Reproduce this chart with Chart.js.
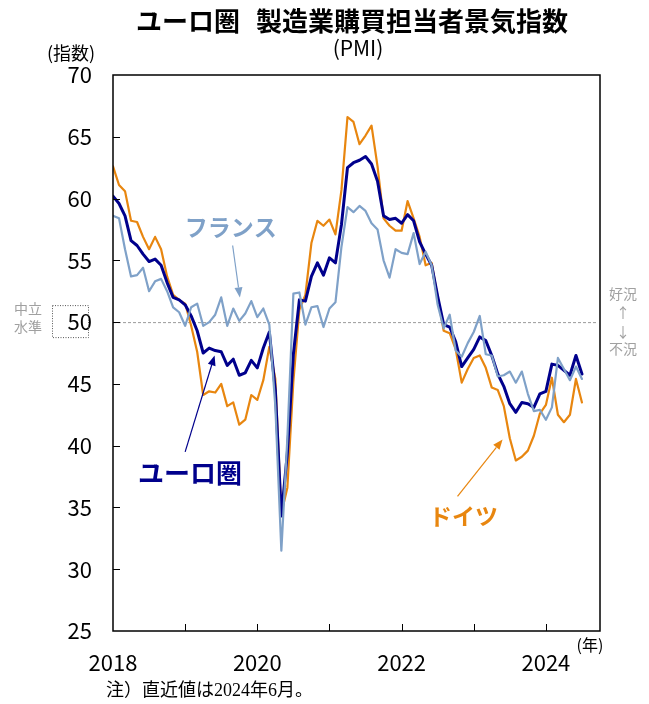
<!DOCTYPE html>
<html>
<head>
<meta charset="utf-8">
<script src="https://cdn.jsdelivr.net/npm/chart.js@4.4.1/dist/chart.umd.min.js"></script>
<style>
  html, body { margin: 0; padding: 0; background: #fff; }
  #wrap { width: 649px; height: 704px; }
</style>
</head>
<body>
<div id="wrap"><canvas id="chartPMI" width="649" height="704"></canvas></div>
<script>
// 月次データ（2017年12月〜2024年6月）
const meses = [];
for (let i = 0; i < 79; i++) {
    const m = 11 + i;
    meses.push(`${2017 + Math.floor(m / 12)}-${String(m % 12 + 1).padStart(2, '0')}`);
}

const euroArea = [
    60.2,
    59.6, 58.6, 56.6, 56.2, 55.5, 54.9, 55.1, 54.6, 53.2, 52.0, 51.8, 51.4,
    50.5, 49.3, 47.5, 47.9, 47.7, 47.6, 46.5, 47.0, 45.7, 45.9, 46.9, 46.3,
    47.9, 49.2, 44.5, 34.3, 39.4, 47.4, 51.8, 51.7, 53.7, 54.8, 53.8, 55.2,
    54.8, 57.9, 62.5, 62.9, 63.1, 63.4, 62.8, 61.4, 58.6, 58.3, 58.4, 58.0,
    58.7, 58.2, 56.5, 55.5, 54.6, 52.1, 49.8, 49.6, 48.4, 46.4, 47.1, 47.8,
    48.8, 48.5, 47.3, 45.8, 44.8, 43.4, 42.7, 43.5, 43.4, 43.1, 44.2, 44.4,
    46.6, 46.5, 46.1, 45.7, 47.3, 45.8
];
const germany = [
    62.6,
    61.1, 60.6, 58.2, 58.1, 56.9, 55.9, 56.9, 55.9, 53.7, 52.2, 51.8, 51.5,
    49.7, 47.6, 44.1, 44.4, 44.3, 45.0, 43.2, 43.5, 41.7, 42.1, 44.1, 43.7,
    45.3, 48.0, 45.4, 34.5, 36.6, 45.2, 51.0, 52.2, 56.4, 58.2, 57.8, 58.3,
    57.1, 60.7, 66.6, 66.2, 64.4, 65.1, 65.9, 62.6, 58.4, 57.8, 57.4, 57.4,
    59.8, 58.4, 56.9, 54.6, 54.8, 52.0, 49.3, 49.1, 47.8, 45.1, 46.2, 47.1,
    47.3, 46.3, 44.7, 44.5, 43.2, 40.6, 38.8, 39.1, 39.6, 40.8, 42.6, 43.3,
    45.5, 42.5, 41.9, 42.5, 45.4, 43.5
];
const france = [
    58.6,
    58.4, 55.9, 53.7, 53.8, 54.4, 52.5, 53.3, 53.5, 52.5, 51.2, 50.8, 49.7,
    51.2, 51.5, 49.7, 50.0, 50.6, 52.0, 49.7, 51.1, 50.1, 50.7, 51.7, 50.4,
    51.1, 49.8, 43.2, 31.5, 40.6, 52.3, 52.4, 49.8, 51.2, 51.3, 49.6, 51.1,
    51.6, 56.1, 59.3, 58.9, 59.4, 59.0, 58.0, 57.5, 55.0, 53.6, 55.9, 55.6,
    55.5, 57.2, 54.7, 55.7, 54.6, 51.4, 49.5, 50.6, 47.7, 47.2, 48.3, 49.2,
    50.5, 47.4, 47.3, 45.6, 45.7, 46.0, 45.1, 46.0, 44.2, 42.8, 42.9, 42.1,
    43.1, 47.1, 46.2, 45.3, 46.4, 45.4
];

const etiquetasAnio = ['2018', '', '2020', '', '2022', '', '2024'];
const ticksAnio = [0, 12, 24, 36, 48, 60, 72];
const ticksY = [25, 30, 35, 40, 45, 50, 55, 60, 65, 70];

const COLOR_EURO = '#00008c';
const COLOR_ALE = '#e8860f';
const COLOR_FRA = '#7fa1c8';
const FUENTE = '"Noto Sans CJK JP", "Noto Sans", sans-serif';

const aPuntos = serie => serie.map((v, i) => ({ x: i, y: v }));

function flecha(ctx, x1, y1, x2, y2, color, ancho) {
    const ang = Math.atan2(y2 - y1, x2 - x1);
    const largo = 10, abre = 4;
    ctx.save();
    ctx.strokeStyle = color;
    ctx.fillStyle = color;
    ctx.lineWidth = ancho;
    ctx.beginPath();
    ctx.moveTo(x1, y1);
    ctx.lineTo(x2 - largo * Math.cos(ang), y2 - largo * Math.sin(ang));
    ctx.stroke();
    ctx.beginPath();
    ctx.moveTo(x2, y2);
    ctx.lineTo(x2 - largo * Math.cos(ang) + abre * Math.sin(ang), y2 - largo * Math.sin(ang) - abre * Math.cos(ang));
    ctx.lineTo(x2 - largo * Math.cos(ang) - abre * Math.sin(ang), y2 - largo * Math.sin(ang) + abre * Math.cos(ang));
    ctx.closePath();
    ctx.fill();
    ctx.restore();
}

// anotaciones en coordenadas de datos (mes, valor)
const notas = [
    { texto: 'フランス', color: COLOR_FRA, en: [19.6, 57.7], tam: 23, de: [19.9, 56.2], a: [21.1, 52.0] },
    { texto: 'ユーロ圏', color: COLOR_EURO, en: [12.8, 37.8], tam: 26, de: [12.0, 39.5], a: [16.9, 47.3] },
    { texto: 'ドイツ', color: COLOR_ALE, en: [58.3, 34.3], tam: 23, de: [57.3, 35.9], a: [64.8, 40.5] }
];

const pluginDecoracion = {
    id: 'decoracion',
    beforeDatasetsDraw(chart) {
        const { ctx, chartArea: ca, scales: { y } } = chart;
        const y50 = y.getPixelForValue(50);
        ctx.save();
        ctx.strokeStyle = '#9a9a9a';
        ctx.lineWidth = 1;
        ctx.setLineDash([3, 2]);
        ctx.beginPath();
        ctx.moveTo(ca.left, y50 + 0.5);
        ctx.lineTo(ca.right - 3, y50 + 0.5);
        ctx.stroke();
        ctx.restore();
    },
    afterDatasetsDraw(chart) {
        const { ctx, chartArea: ca, scales: { x, y } } = chart;
        ctx.save();
        // marco
        ctx.strokeStyle = '#000';
        ctx.lineWidth = 1.5;
        ctx.strokeRect(ca.left, ca.top, ca.right - ca.left, ca.bottom - ca.top);
        // marcas internas
        ctx.lineWidth = 1;
        ctx.beginPath();
        ticksY.slice(1, -1).forEach(v => {
            const py = Math.round(y.getPixelForValue(v)) + 0.5;
            ctx.moveTo(ca.left, py);
            ctx.lineTo(ca.left + 7, py);
        });
        ticksAnio.slice(1).forEach(v => {
            const px = Math.round(x.getPixelForValue(v)) + 0.5;
            ctx.moveTo(px, ca.bottom);
            ctx.lineTo(px, ca.bottom - 7);
        });
        ctx.stroke();

        // caja punteada alrededor del 50
        const y50 = y.getPixelForValue(50);
        ctx.strokeStyle = '#555';
        ctx.setLineDash([1, 1.5]);
        ctx.strokeRect(52.5, y50 - 16.5, 36, 32);
        ctx.setLineDash([]);

        // textos grises
        ctx.fillStyle = '#a0a0a0';
        ctx.textAlign = 'center';
        ctx.textBaseline = 'middle';
        ctx.font = `14px ${FUENTE}`;
        ctx.fillText('中立', 28, y50 - 13);
        ctx.fillText('水準', 28, y50 + 5);
        ctx.fillText('好況', 623, y50 - 28);
        ctx.fillText('↑', 623, y50 - 9);
        ctx.fillText('↓', 623, y50 + 10);
        ctx.fillText('不況', 623, y50 + 27);

        // anotaciones de series
        notas.forEach(n => {
            ctx.font = `bold ${n.tam}px ${FUENTE}`;
            ctx.fillStyle = n.color;
            ctx.fillText(n.texto, x.getPixelForValue(n.en[0]), y.getPixelForValue(n.en[1]));
            flecha(ctx, x.getPixelForValue(n.de[0]), y.getPixelForValue(n.de[1]),
                x.getPixelForValue(n.a[0]), y.getPixelForValue(n.a[1]), n.color, 1.2);
        });

        // títulos
        ctx.fillStyle = '#000';
        ctx.font = `bold 26px ${FUENTE}`;
        ctx.textAlign = 'right';
        ctx.fillText('ユーロ圏', 240, 21);
        ctx.textAlign = 'left';
        ctx.fillText('製造業購買担当者景気指数', 256, 21);
        ctx.textAlign = 'center';
        ctx.font = `21px ${FUENTE}`;
        ctx.fillText('(PMI)', 358, 48);
        ctx.font = `18px ${FUENTE}`;
        ctx.fillText('(指数)', 71, 53);
        ctx.font = `16px ${FUENTE}`;
        ctx.fillText('(年)', 590, 645);
        ctx.textAlign = 'left';
        ctx.font = `18px "Liberation Serif", "Noto Sans CJK JP", serif`;
        ctx.fillText('注）直近値は2024年6月。', 106, 691);
        ctx.restore();
    }
};

new Chart(document.getElementById('chartPMI').getContext('2d'), {
    type: 'line',
    data: {
        labels: meses,
        datasets: [
            { label: 'フランス', data: aPuntos(france), borderColor: COLOR_FRA, borderWidth: 2.2, order: 0 },
            { label: 'ユーロ圏', data: aPuntos(euroArea), borderColor: COLOR_EURO, borderWidth: 3, order: 1 },
            { label: 'ドイツ', data: aPuntos(germany), borderColor: COLOR_ALE, borderWidth: 2.2, order: 2 }
        ]
    },
    options: {
        responsive: false,
        animation: false,
        devicePixelRatio: 1,
        layout: { padding: { left: 0, right: 49, top: 75, bottom: 0 } },
        elements: {
            point: { radius: 0 },
            line: { tension: 0, borderJoinStyle: 'round', borderCapStyle: 'round', fill: false }
        },
        plugins: { legend: { display: false }, tooltip: { enabled: false } },
        scales: {
            x: {
                type: 'linear',
                min: 0,
                max: 81,
                afterFit: s => { s.height = 73; },
                afterBuildTicks: s => { s.ticks = ticksAnio.map(v => ({ value: v })); },
                grid: { display: false, drawTicks: false },
                border: { display: false },
                ticks: {
                    autoSkip: false,
                    maxRotation: 0,
                    padding: 18,
                    color: '#000',
                    font: { family: FUENTE, size: 22 },
                    callback: (v) => etiquetasAnio[ticksAnio.indexOf(v)] ?? ''
                }
            },
            y: {
                min: 25,
                max: 70,
                afterFit: s => { s.width = 113; },
                afterBuildTicks: s => { s.ticks = ticksY.map(v => ({ value: v })); },
                grid: { display: false, drawTicks: false },
                border: { display: false },
                ticks: {
                    padding: 21,
                    color: '#000',
                    font: { family: FUENTE, size: 22 }
                }
            }
        }
    },
    plugins: [pluginDecoracion]
});
</script>
</body>
</html>
